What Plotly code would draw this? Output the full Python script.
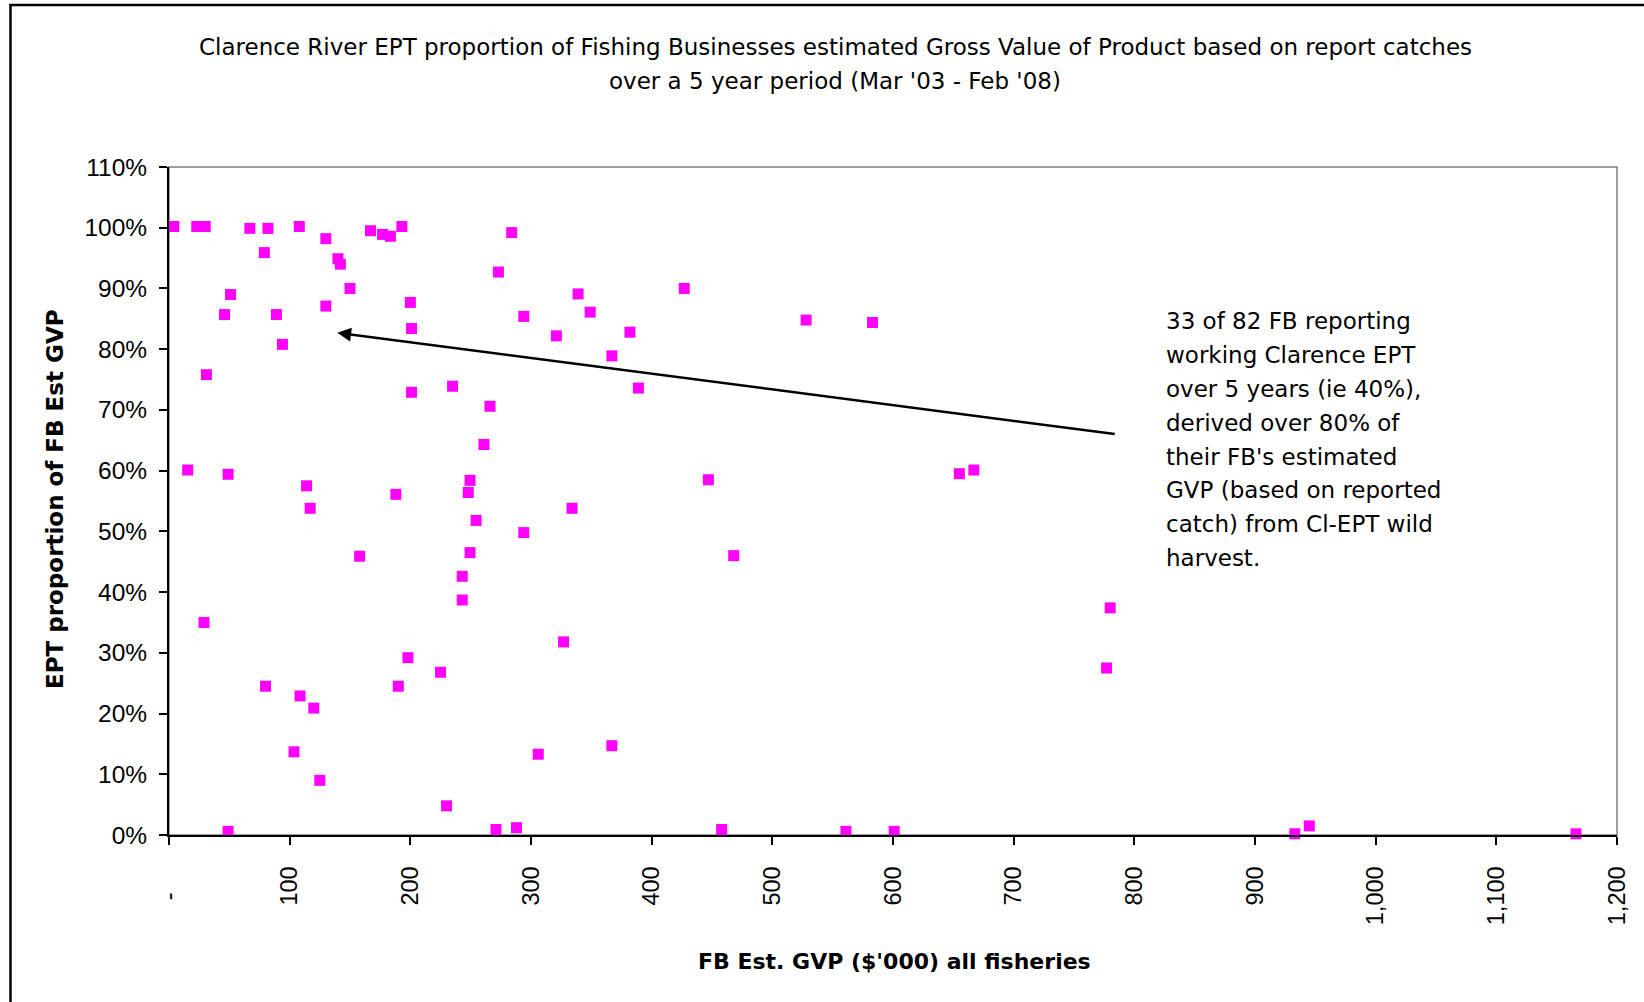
import plotly.graph_objects as go

# ---------------- data ----------------
gvp_k = [4, 23, 30, 67, 82, 79, 108, 130, 140, 142, 150, 130, 167, 177, 183.5, 193,
         200, 201, 201, 235, 266, 261, 273, 284, 294, 51, 46, 89, 94, 31, 15.5, 49,
         114, 117, 188, 249.5, 248, 254.5, 294, 158, 249.5, 243, 243, 29, 198, 225,
         80, 190, 108.6, 120, 103.6, 125, 306, 230, 49, 271, 288, 339, 349, 321, 382,
         367, 389, 427, 528, 583, 334, 447, 468, 327, 367, 458, 561, 601, 655, 667,
         780, 777, 933, 945, 1166]
ept_pct = [100.2, 100.2, 100.2, 99.9, 99.9, 95.9, 100.2, 98.2, 94.9, 94.0, 90.0, 87.1,
           99.5, 98.9, 98.6, 100.2, 87.7, 83.4, 72.9, 73.9, 70.6, 64.3, 92.7, 99.2, 85.4,
           89.0, 85.7, 85.7, 80.8, 75.8, 60.1, 59.4, 57.5, 53.8, 56.1, 58.4, 56.4, 51.8,
           49.8, 45.9, 46.5, 42.6, 38.7, 35.0, 29.2, 26.8, 24.5, 24.5, 22.9, 20.9, 13.7,
           9.0, 13.3, 4.8, 0.6, 0.9, 1.2, 89.1, 86.1, 82.2, 82.8, 78.9, 73.6, 90.0, 84.8,
           84.4, 53.8, 58.5, 46.0, 31.8, 14.7, 0.9, 0.6, 0.6, 59.5, 60.1, 37.4, 27.5, 0.2,
           1.5, 0.2]

x_tick_vals = [0, 100, 200, 300, 400, 500, 600, 700, 800, 900, 1000, 1100, 1200]
x_tick_text = ["-" + "\u00a0" * 4, "100", "200", "300", "400", "500", "600",
               "700", "800", "900", "1,000", "1,100", "1,200"]
y_tick_vals = [0.0, 0.1, 0.2, 0.3, 0.4, 0.5, 0.6, 0.7, 0.8, 0.9, 1.0, 1.1]
y_tick_text = ["0%", "10%", "20%", "30%", "40%", "50%", "60%", "70%", "80%", "90%",
               "100%", "110%"]

title_lines = [
    "Clarence River EPT proportion of Fishing Businesses estimated Gross Value of Product based on report catches",
    "over a 5 year period (Mar '03 - Feb '08)",
]
note_lines = [
    "33 of 82 FB reporting",
    "working Clarence EPT",
    "over 5 years (ie 40%),",
    "derived over 80% of",
    "their FB's estimated",
    "GVP (based on reported",
    "catch) from Cl-EPT wild",
    "harvest.",
]
x_title = "FB Est. GVP ($'000) all fisheries"
y_title = "EPT proportion of FB Est GVP"

# arrow: head point and tail point (data units)
arrow_head = (139.5, 0.827)
arrow_tail = (785.0, 0.660)

# ---------------- layout geometry (pixels) ----------------
W, H = 1644, 1002
L, R, T, B = 169, 1617, 167, 835
TICK_FONT = "Arial, 'Liberation Sans', sans-serif"
TEXT_FONT = "'DejaVu Sans', Arial, sans-serif"


def px_x(px):
    return (px - L) / (R - L)


def px_y(py):
    return (B - py) / (B - T)


fig = go.Figure()
fig.add_trace(go.Scatter(
    x=gvp_k,
    y=[v / 100 for v in ept_pct],
    mode="markers",
    marker=dict(symbol="square", size=11, color="#FF00FF", line=dict(width=0)),
    cliponaxis=False,
    showlegend=False,
    hoverinfo="x+y",
))

annotations = []
for line, py in zip(title_lines, [47, 81]):
    annotations.append(dict(
        text=line, xref="paper", yref="paper", x=px_x(835), y=px_y(py),
        xanchor="center", yanchor="middle", showarrow=False,
        font=dict(family=TEXT_FONT, size=23, color="black"),
    ))
for i, line in enumerate(note_lines):
    py = 321 + i * 33.9
    annotations.append(dict(
        text=line, xref="paper", yref="paper", x=px_x(1164), y=px_y(py),
        xanchor="left", yanchor="middle", showarrow=False,
        font=dict(family=TEXT_FONT, size=23, color="black"),
    ))
annotations.append(dict(
    x=arrow_head[0], y=arrow_head[1], ax=arrow_tail[0], ay=arrow_tail[1],
    xref="x", yref="y", axref="x", ayref="y", text="", showarrow=True,
    arrowhead=2, arrowsize=1.1, arrowwidth=2.5, arrowcolor="black", standoff=0,
))
annotations.append(dict(
    text="<b>" + x_title + "</b>", xref="paper", yref="paper", x=px_x(894), y=px_y(961),
    xanchor="center", yanchor="middle", showarrow=False,
    font=dict(family=TEXT_FONT, size=22, color="black"),
))
annotations.append(dict(
    text="<b>" + y_title + "</b>", xref="paper", yref="paper", x=px_x(55), y=px_y(499),
    xanchor="center", yanchor="middle", showarrow=False, textangle=-90,
    font=dict(family=TEXT_FONT, size=23, color="black"),
))

shapes = [
    dict(type="rect", xref="paper", yref="paper", x0=0, x1=1, y0=0, y1=1,
         line=dict(color="#808080", width=1.5), layer="below"),
    dict(type="line", xref="paper", yref="paper", x0=px_x(10.5), x1=px_x(10.5),
         y0=px_y(4), y1=px_y(1100), line=dict(color="black", width=2.5)),
    dict(type="line", xref="paper", yref="paper", x0=px_x(9.5), x1=px_x(1700),
         y0=px_y(5), y1=px_y(5), line=dict(color="black", width=2.5)),
]

fig.update_layout(
    width=W, height=H,
    margin=dict(l=L, r=W - R, t=T, b=H - B, pad=0),
    paper_bgcolor="white", plot_bgcolor="white",
    font=dict(family=TICK_FONT, color="black"),
    annotations=annotations,
    shapes=shapes,
    showlegend=False,
)
fig.update_xaxes(
    range=[0, 1200], tickmode="array", tickvals=x_tick_vals, ticktext=x_tick_text,
    tickangle=-90, ticks="outside", ticklen=8, tickwidth=1.5, tickcolor="black",
    showline=True, linecolor="black", linewidth=2, showgrid=False, zeroline=False,
    tickfont=dict(family=TICK_FONT, size=23.5, color="black"), ticklabelstandoff=12,
)
fig.update_yaxes(
    range=[0, 1.1], tickmode="array", tickvals=y_tick_vals, ticktext=y_tick_text,
    ticks="outside", ticklen=8, tickwidth=1.5, tickcolor="black",
    showline=True, linecolor="black", linewidth=2, showgrid=False, zeroline=False,
    tickfont=dict(family=TICK_FONT, size=24.5, color="black"), ticklabelstandoff=7,
)

fig.write_html(
    "out.html",
    config={"displayModeBar": False},
    post_script="document.body.style.margin='0';document.body.style.overflow='hidden';",
)
